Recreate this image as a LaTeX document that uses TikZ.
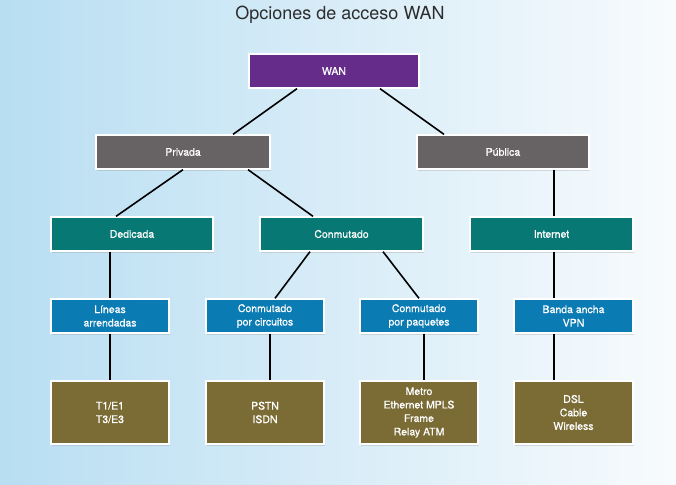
\documentclass[tikz,border=0pt]{standalone}
\usepackage{fontspec}
\setmainfont{TeX Gyre Heros}
\newfontfamily\boxfont[FakeBold=0.7]{TeX Gyre Heros}
\usetikzlibrary{shadows}
\definecolor{wanpurple}{RGB}{101,44,138}
\definecolor{netgray}{RGB}{103,98,100}
\definecolor{netteal}{RGB}{7,120,115}
\definecolor{netblue}{RGB}{10,123,179}
\definecolor{netolive}{RGB}{123,107,53}
\definecolor{bgleft}{RGB}{184,222,242}
\definecolor{bgmid}{RGB}{206,232,246}
\definecolor{bgright}{RGB}{248,251,253}
\definecolor{titlegray}{RGB}{45,45,45}
\begin{document}
\begin{tikzpicture}[x=1pt, y=-1pt,
    box/.style={draw=white, line width=1.3pt, text=white, align=center, inner sep=0pt,
        minimum height=34pt, font=\boxfont\fontsize{10.5}{13.5}\selectfont,
        drop shadow={shadow xshift=1pt, shadow yshift=-1.5pt, opacity=0.25}},
    link/.style={line width=1.6pt, black}]
    \shade[left color=bgleft, middle color=bgmid, right color=bgright, shading angle=90]
        (0,0) rectangle (676,484);
    \useasboundingbox (0,0) rectangle (676,484);
    \node[text=titlegray, font=\fontsize{18}{21}\selectfont] (title) at (340,15) {Opciones de acceso WAN};
    \node[box, fill=wanpurple, minimum width=170pt] (wan) at (334,71) {WAN};
    \node[box, fill=netgray, minimum width=174pt] (priv) at (183,152) {Privada};
    \node[box, fill=netgray, minimum width=172pt] (pub) at (503,152) {Pública};
    \node[box, fill=netteal, minimum width=162pt] (ded) at (132,234) {Dedicada};
    \node[box, fill=netteal, minimum width=163pt] (conm) at (341.5,234) {Conmutado};
    \node[box, fill=netteal, minimum width=163pt] (inet) at (551.5,234) {Internet};
    \node[box, fill=netblue, minimum width=118pt] (lin) at (110,316) {Líneas\\arrendadas};
    \node[box, fill=netblue, minimum width=118pt] (circ) at (265,316) {Conmutado\\por circuitos};
    \node[box, fill=netblue, minimum width=118pt] (paq) at (419,316) {Conmutado\\por paquetes};
    \node[box, fill=netblue, minimum width=119pt] (banda) at (573.5,316) {Banda ancha\\VPN};
    \node[box, fill=netolive, minimum width=118pt, minimum height=63pt] (tlines) at (110,412.5) {T1/E1\\T3/E3};
    \node[box, fill=netolive, minimum width=118pt, minimum height=63pt] (pstn) at (265,412.5) {PSTN\\ISDN};
    \node[box, fill=netolive, minimum width=118pt, minimum height=63pt] (metro) at (419,412.5) {Metro\\Ethernet MPLS\\Frame\\Relay ATM};
    \node[box, fill=netolive, minimum width=119pt, minimum height=63pt] (dsl) at (573.5,412.5) {DSL\\Cable\\Wireless};
    \draw[link] ([xshift=-37pt]wan.south) -- ([xshift=50pt]priv.north);
    \draw[link] ([xshift=46pt]wan.south) -- ([xshift=-59pt]pub.north);
    \draw[link] (priv.south) -- ([xshift=-16pt]ded.north);
    \draw[link] ([xshift=65pt]priv.south) -- ([xshift=-28.5pt]conm.north);
    \draw[link] ([xshift=51pt]pub.south) -- ([xshift=2.5pt]inet.north);
    \draw[link] ([xshift=-22pt]ded.south) -- (lin.north);
    \draw[link] ([xshift=-31.5pt]conm.south) -- ([xshift=10pt]circ.north);
    \draw[link] ([xshift=41.5pt]conm.south) -- (paq.north);
    \draw[link] ([xshift=2.5pt]inet.south) -- ([xshift=-19.5pt]banda.north);
    \draw[link] (lin.south) -- (tlines.north);
    \draw[link] ([xshift=5pt]circ.south) -- ([xshift=5pt]pstn.north);
    \draw[link] ([xshift=5pt]paq.south) -- ([xshift=5pt]metro.north);
    \draw[link] ([xshift=-19.5pt]banda.south) -- ([xshift=-19.5pt]dsl.north);
\end{tikzpicture}
\end{document}
